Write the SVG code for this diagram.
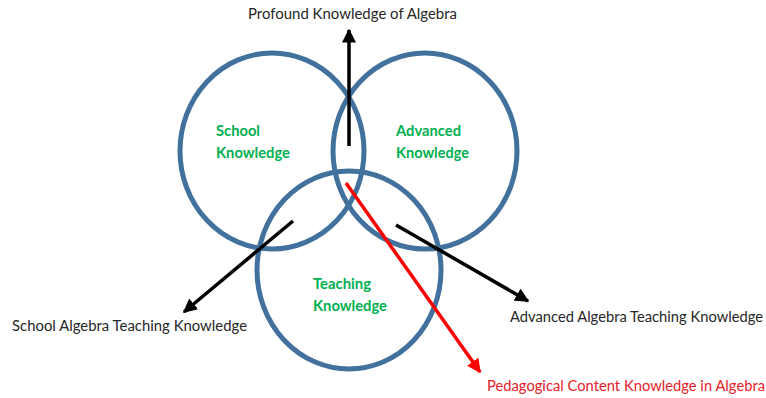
<svg xmlns="http://www.w3.org/2000/svg" width="766" height="398" viewBox="0 0 766 398">
<style>
.ring{fill:none;stroke:#41719C;stroke-width:5}
.lbl{font-family:Lato,"Liberation Sans",sans-serif;font-size:14.5px;fill:#262626}
.grn{font-family:Lato,"Liberation Sans",sans-serif;font-size:14.5px;font-weight:bold;fill:#00B050}
.red{fill:#E8202A}
.blk{stroke:#000;stroke-width:3.5;fill:none}
.rln{stroke:#FF0000;stroke-width:3.5;fill:none}
</style>
<defs>
<marker id="ah" viewBox="0 0 10 10" refX="9" refY="5" markerWidth="4" markerHeight="4" orient="auto" markerUnits="strokeWidth">
<path d="M0,0 L10,5 L0,10 z" fill="#000"/>
</marker>
<marker id="ahr" viewBox="0 0 10 10" refX="9" refY="5" markerWidth="4" markerHeight="4" orient="auto" markerUnits="strokeWidth">
<path d="M0,0 L10,5 L0,10 z" fill="#FF0000"/>
</marker>
</defs>
<g id="school">
<ellipse class="ring" cx="272" cy="151" rx="92" ry="98"/>
<text class="grn" x="216" y="136" textLength="44" lengthAdjust="spacingAndGlyphs">School</text>
<text class="grn" x="216" y="158" textLength="74" lengthAdjust="spacingAndGlyphs">Knowledge</text>
</g>
<g id="advanced">
<ellipse class="ring" cx="425" cy="151" rx="92" ry="98"/>
<text class="grn" x="396" y="136" textLength="65" lengthAdjust="spacingAndGlyphs">Advanced</text>
<text class="grn" x="396" y="158" textLength="73" lengthAdjust="spacingAndGlyphs">Knowledge</text>
</g>
<g id="teaching">
<ellipse class="ring" cx="349" cy="270" rx="92" ry="99"/>
<text class="grn" x="313" y="289" textLength="58" lengthAdjust="spacingAndGlyphs">Teaching</text>
<text class="grn" x="313" y="311" textLength="74" lengthAdjust="spacingAndGlyphs">Knowledge</text>
</g>
<g id="connectors">
<line class="blk" x1="349" y1="146" x2="349" y2="30" marker-end="url(#ah)"/>
<line class="blk" x1="293" y1="221" x2="184" y2="312" marker-end="url(#ah)"/>
<line class="blk" x1="396" y1="225" x2="528" y2="301" marker-end="url(#ah)"/>
<line class="rln" x1="346" y1="183" x2="480" y2="372" marker-end="url(#ahr)"/>
</g>
<g id="profound">
<text class="lbl" x="248" y="19" textLength="209" lengthAdjust="spacingAndGlyphs">Profound Knowledge of Algebra</text>
</g>
<g id="school-teaching">
<text class="lbl" x="12" y="331" textLength="235" lengthAdjust="spacingAndGlyphs">School Algebra Teaching Knowledge</text>
</g>
<g id="advanced-teaching">
<text class="lbl" x="510" y="322" textLength="253" lengthAdjust="spacingAndGlyphs">Advanced Algebra Teaching Knowledge</text>
</g>
<g id="pck">
<text class="lbl red" x="487" y="391" textLength="278" lengthAdjust="spacingAndGlyphs">Pedagogical Content Knowledge in Algebra</text>
</g>
</svg>
